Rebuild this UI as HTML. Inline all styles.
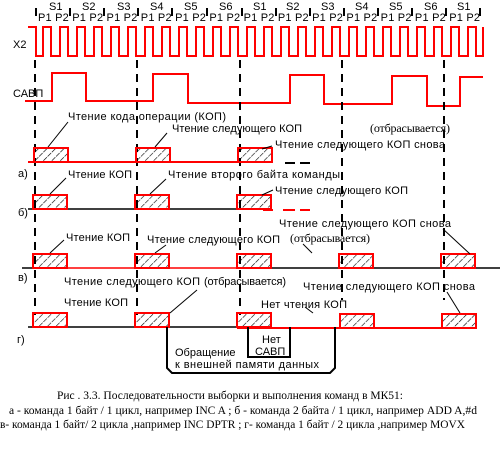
<!DOCTYPE html>
<html><head><meta charset="utf-8"><style>
html,body{margin:0;padding:0;background:#fff;width:500px;height:450px;overflow:hidden}
svg{display:block}
text{font-family:"Liberation Sans","DejaVu Sans",sans-serif;font-size:11px;fill:#000}
.s{font-family:"Liberation Serif",serif;font-size:12px}
</style></head><body>
<svg width="500" height="450" viewBox="0 0 500 450" xmlns="http://www.w3.org/2000/svg">
<defs>
<pattern id="h" width="6" height="6" patternUnits="userSpaceOnUse" patternTransform="rotate(45)">
<line x1="0" y1="0" x2="0" y2="6" stroke="#000" stroke-width="1.2" stroke-dasharray="5 1"/>
</pattern>
</defs>
<g font-size="11">
<text x="49" y="10">S1</text><text x="82" y="10">S2</text><text x="117" y="10">S3</text>
<text x="150" y="10">S4</text><text x="184" y="10">S5</text><text x="219" y="10">S6</text>
<text x="253" y="10">S1</text><text x="286" y="10">S2</text><text x="321" y="10">S3</text>
<text x="355" y="10">S4</text><text x="389" y="10">S5</text><text x="424" y="10">S6</text>
<text x="457" y="10">S1</text>
</g>
<g stroke="#000" stroke-width="2">
<line x1="36" y1="8" x2="36" y2="16"/><line x1="70" y1="8" x2="70" y2="16"/><line x1="104" y1="8" x2="104" y2="16"/>
<line x1="138" y1="8" x2="138" y2="16"/><line x1="172" y1="8" x2="172" y2="16"/><line x1="207" y1="8" x2="207" y2="16"/>
<line x1="242" y1="8" x2="242" y2="16"/><line x1="276" y1="8" x2="276" y2="16"/><line x1="310" y1="8" x2="310" y2="16"/>
<line x1="344" y1="8" x2="344" y2="16"/><line x1="378" y1="8" x2="378" y2="16"/><line x1="412" y1="8" x2="412" y2="16"/>
<line x1="446" y1="8" x2="446" y2="16"/><line x1="480" y1="8" x2="480" y2="16"/>
</g>
<text x="38" y="21" textLength="442" lengthAdjust="spacing">P1 P2 P1 P2 P1 P2 P1 P2 P1 P2 P1 P2 P1 P2 P1 P2 P1 P2 P1 P2 P1 P2 P1 P2 P1 P2</text>
<text x="13" y="48" font-size="12">X2</text>
<text x="13" y="97" font-size="12">САВП</text>
<path fill="none" stroke="#f00" stroke-width="2" d="M28 27 H36 V56 H43 V27 H51 V56 H60 V27 H68 V56 H77 V27 H85 V56 H94 V27 H102 V56 H111 V27 H119 V56 H128 V27 H136 V56 H145 V27 H153 V56 H162 V27 H170 V56 H179 V27 H187 V56 H196 V27 H204 V56 H213 V27 H221 V56 H230 V27 H238 V56 H247 V27 H255 V56 H264 V27 H272 V56 H281 V27 H289 V56 H298 V27 H306 V56 H315 V27 H323 V56 H332 V27 H340 V56 H349 V27 H357 V56 H366 V27 H374 V56 H383 V27 H391 V56 H400 V27 H408 V56 H417 V27 H425 V56 H434 V27 H442 V56 H451 V27 H459 V56 H468 V27 H476 V56 H483 V27"/>
<path fill="none" stroke="#f00" stroke-width="2" d="M25 101 H52 V73 H86 V101 H153 V74 H188 V103 H290 V75 H324 V104 H392 V76 H427 V106 H460 V77 H483"/>
<g stroke="#000" stroke-width="2" stroke-dasharray="8 6">
<line x1="35" y1="60" x2="35" y2="315"/><line x1="137" y1="60" x2="137" y2="315"/><line x1="240" y1="60" x2="240" y2="315"/>
<line x1="342" y1="60" x2="342" y2="300"/><line x1="444" y1="60" x2="444" y2="300"/>
</g>
<line x1="28" y1="162" x2="272" y2="162" stroke="#f00" stroke-width="2"/>
<line x1="285" y1="163" x2="295" y2="163" stroke="#000" stroke-width="2"/><line x1="300" y1="163" x2="310" y2="163" stroke="#000" stroke-width="2"/>
<line x1="28" y1="209" x2="262" y2="209" stroke="#000" stroke-width="1.5"/>
<g stroke="#f00" stroke-width="2"><line x1="263" y1="210" x2="273" y2="210"/><line x1="283" y1="210" x2="295" y2="210"/><line x1="300" y1="210" x2="310" y2="210"/></g>
<line x1="22" y1="268" x2="33" y2="268" stroke="#000" stroke-width="1.5"/>
<line x1="33" y1="268" x2="240" y2="268" stroke="#f00" stroke-width="1.5"/>
<line x1="240" y1="268" x2="500" y2="268" stroke="#000" stroke-width="1.5"/>
<line x1="28" y1="327" x2="237" y2="327" stroke="#000" stroke-width="1.5"/>
<line x1="237" y1="328" x2="444" y2="328" stroke="#f00" stroke-width="2"/>
<g fill="url(#h)" stroke="#f00" stroke-width="2">
<rect x="34" y="148" width="34" height="14"/><rect x="136" y="148" width="34" height="14"/><rect x="238" y="148" width="34" height="14"/>
<rect x="33" y="195" width="34" height="14"/><rect x="135" y="195" width="34" height="14"/><rect x="237" y="195" width="34" height="14"/>
<rect x="33" y="254" width="34" height="14"/><rect x="135" y="254" width="34" height="14"/><rect x="237" y="254" width="34" height="14"/>
<rect x="339" y="254" width="34" height="14"/><rect x="441" y="254" width="34" height="14"/>
<rect x="33" y="313" width="34" height="14"/><rect x="135" y="313" width="34" height="14"/><rect x="237" y="313" width="34" height="14"/>
<rect x="340" y="314" width="34" height="14"/><rect x="442" y="314" width="34" height="14"/>
</g>
<g stroke="#000" stroke-width="1" fill="none">
<line x1="68" y1="122" x2="48" y2="147"/><line x1="167" y1="133" x2="155" y2="147"/><line x1="272" y1="146" x2="262" y2="149"/>
<line x1="66" y1="178" x2="50" y2="194"/><line x1="166" y1="179" x2="150" y2="194"/><line x1="273" y1="190" x2="262" y2="195"/>
<line x1="64" y1="240" x2="50" y2="253"/><line x1="166" y1="245" x2="155" y2="253"/><line x1="303" y1="244" x2="312" y2="253"/><line x1="443" y1="229" x2="470" y2="254"/>
<line x1="197" y1="290" x2="170" y2="313"/><line x1="305" y1="307" x2="313" y2="313"/><line x1="447" y1="292" x2="460" y2="313"/>
</g>
<text x="68" y="120" textLength="158" lengthAdjust="spacing">Чтение кода операции (КОП)</text>
<text x="172" y="132" textLength="130" lengthAdjust="spacing">Чтение следующего КОП</text>
<text class="s" x="370" y="132" textLength="80" lengthAdjust="spacing">(отбрасывается)</text>
<text x="275" y="148" textLength="170" lengthAdjust="spacing">Чтение следующего КОП снова</text>
<text x="18" y="177">а)</text>
<text x="68" y="178" textLength="64" lengthAdjust="spacing">Чтение КОП</text>
<text x="168" y="178" textLength="172" lengthAdjust="spacing">Чтение второго байта команды</text>
<text x="275" y="194" textLength="133" lengthAdjust="spacing">Чтение следующего КОП</text>
<text x="18" y="216">б)</text>
<text x="279" y="227" textLength="172" lengthAdjust="spacing">Чтение следующего КОП снова</text>
<text x="66" y="241" textLength="64" lengthAdjust="spacing">Чтение КОП</text>
<text x="147" y="243" textLength="133" lengthAdjust="spacing">Чтение следующего КОП</text>
<text class="s" x="290" y="242" textLength="80" lengthAdjust="spacing">(отбрасывается)</text>
<text x="18" y="281">в)</text>
<text x="64" y="285" textLength="136" lengthAdjust="spacing">Чтение следующего КОП</text>
<text x="204" y="285" textLength="82" lengthAdjust="spacing">(отбрасывается)</text>
<text x="303" y="290" textLength="172" lengthAdjust="spacing">Чтение следующего КОП снова</text>
<text x="64" y="306" textLength="64" lengthAdjust="spacing">Чтение КОП</text>
<text x="261" y="308" textLength="86" lengthAdjust="spacing">Нет чтения КОП</text>
<text x="17" y="343">г)</text>
<path d="M167 327 V368 L172 373 H330 L335 368 V327" fill="none" stroke="#000" stroke-width="2"/>
<path d="M248 327 V357 H290 V327" fill="none" stroke="#000" stroke-width="2"/>
<text x="262" y="343">Нет</text>
<text x="255" y="355">САВП</text>
<text x="175" y="356">Обращение</text>
<text x="175" y="368" textLength="144" lengthAdjust="spacing">к внешней памяти данных</text>
<text class="s" x="57" y="399" textLength="346" lengthAdjust="spacingAndGlyphs">Рис . 3.3.  Последовательности  выборки и выполнения  команд в МК51:</text>
<text class="s" x="9" y="414" textLength="468" lengthAdjust="spacingAndGlyphs">а -  команда 1 байт / 1 цикл, например INC A  ; б - команда  2 байта / 1 цикл, например ADD A,#d</text>
<text class="s" x="0" y="428" textLength="465" lengthAdjust="spacingAndGlyphs">в- команда 1 байт/ 2 цикла ,например INC DPTR ; г- команда 1 байт / 2 цикла ,например MOVX</text>
</svg>
</body></html>
